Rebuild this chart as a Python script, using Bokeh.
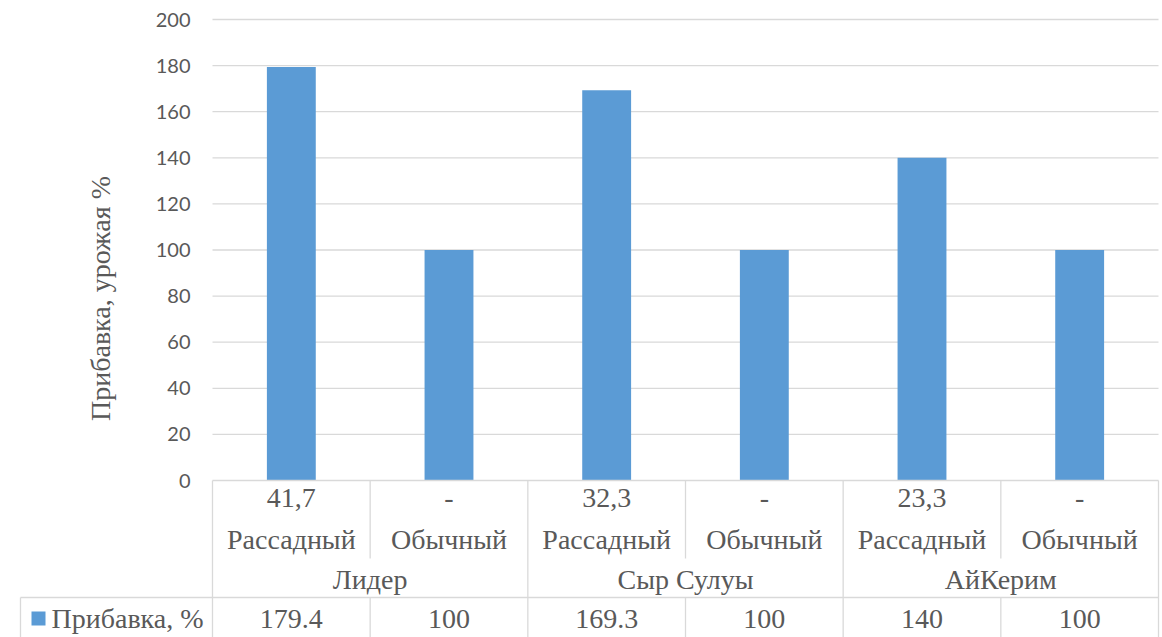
from bokeh.plotting import figure
from bokeh.models import Range1d, ColumnDataSource
from bokeh.core.properties import value
from bokeh.embed import file_html
from bokeh.resources import INLINE

# ---- data ----
varieties = ["Лидер", "Сыр Сулуы", "АйКерим"]
methods = ["Рассадный", "Обычный"]
gain_labels = ["41,7", "-", "32,3", "-", "23,3", "-"]
gain_pct = [179.4, 100, 169.3, 100, 140, 100]
value_labels = ["179.4", "100", "169.3", "100", "140", "100"]
y_ticks = [0, 20, 40, 60, 80, 100, 120, 140, 160, 180, 200]
series_name = "Прибавка, %"
axis_title = "Прибавка, урожая %"

# ---- layout (screen pixels) ----
W, H = 1162, 637
PLOT_L, PLOT_R = 212, 1158
PLOT_T, PLOT_B = 19, 480
n_slots = len(gain_pct)
slot_px = (PLOT_R - PLOT_L) / n_slots
unit_px = (PLOT_B - PLOT_T) / (y_ticks[-1] - y_ticks[0])


def ypx(py):
    """screen y -> data y"""
    return (PLOT_B - py) / unit_px


def xpx(px):
    """screen x -> data x (slot units)"""
    return (px - PLOT_L) / slot_px


GRID = "#d9d9d9"
TXT = "#595959"
BAR = "#5b9bd5"
TBL = "28px"


def serif_text(**kw):
    p.text(text_font=value("Liberation Serif"), text_color=TXT,
           text_baseline="middle", **kw)


p = figure(width=W, height=H, output_backend="svg", toolbar_location=None,
           x_range=Range1d(xpx(0), xpx(W)), y_range=Range1d(ypx(H), ypx(0)),
           min_border=0, outline_line_color=None)
p.axis.visible = False
p.grid.visible = False
p.background_fill_color = "white"
p.border_fill_color = "white"

# serif texts first: axis title
serif_text(x=[xpx(100)], y=[ypx(298)], text=[axis_title], angle=1.5708,
           text_align="center", text_font_size="28px")

# horizontal gridlines
grid_y = [t for t in y_ticks if t > 0]
p.segment(x0=[0] * len(grid_y), x1=[n_slots] * len(grid_y), y0=grid_y, y1=grid_y,
          line_color=GRID, line_width=1.3)

# bars
centers = [i + 0.5 for i in range(n_slots)]
src = ColumnDataSource(dict(x=centers, top=gain_pct))
p.vbar(x="x", top="top", bottom=0, width=0.31, source=src,
       fill_color=BAR, line_color=None)

# ---- data table under the axis ----
ROW_SPLIT = 558   # end of inner dividers in the category rows
LEG_TOP = 597
LEG_LEFT = 20
LW = 1.3

# axis line / table top
p.segment(x0=[0], x1=[n_slots], y0=[0], y1=[0], line_color=GRID, line_width=LW)
# group borders (full height)
for g in range(len(varieties) + 1):
    xg = g * len(methods)
    p.segment(x0=[xg], x1=[xg], y0=[0], y1=[ypx(H)], line_color=GRID, line_width=LW)
# inner dividers
for g in range(len(varieties)):
    for m in range(1, len(methods)):
        xi = g * len(methods) + m
        p.segment(x0=[xi], x1=[xi], y0=[0], y1=[ypx(ROW_SPLIT)], line_color=GRID, line_width=LW)
        p.segment(x0=[xi], x1=[xi], y0=[ypx(LEG_TOP)], y1=[ypx(H)], line_color=GRID, line_width=LW)
# legend row frame
p.segment(x0=[xpx(LEG_LEFT)], x1=[n_slots], y0=[ypx(LEG_TOP)], y1=[ypx(LEG_TOP)],
          line_color=GRID, line_width=LW)
p.segment(x0=[xpx(LEG_LEFT)], x1=[xpx(LEG_LEFT)], y0=[ypx(LEG_TOP)], y1=[ypx(H)],
          line_color=GRID, line_width=LW)

# row 1: gain labels, row 2: methods
method_row = [methods[i % len(methods)] for i in range(n_slots)]
serif_text(x=centers, y=[ypx(497)] * n_slots, text=gain_labels, text_align="center",
           text_font_size=TBL)
serif_text(x=centers, y=[ypx(539)] * n_slots, text=method_row, text_align="center",
           text_font_size=TBL)
# row 3: varieties
group_centers = [g * len(methods) + len(methods) / 2 for g in range(len(varieties))]
serif_text(x=group_centers, y=[ypx(579)] * len(varieties), text=varieties,
           text_align="center", text_font_size=TBL)
# legend row values
serif_text(x=centers, y=[ypx(618)] * n_slots, text=value_labels, text_align="center",
           text_font_size=TBL)
# legend key + name
p.scatter(x=[xpx(38)], y=[ypx(618)], marker="square", size=14, fill_color=BAR, line_color=None)
serif_text(x=[xpx(51)], y=[ypx(618)], text=[series_name], text_align="left",
           text_font_size=TBL)

# y tick labels (sans), drawn last
p.text(x=[xpx(190)] * len(y_ticks), y=y_ticks, text=[str(t) for t in y_ticks],
       text_align="right", text_baseline="middle", text_font=value("Lato"),
       text_font_size="20px", text_color=TXT)

open("out.html", "w").write(file_html(p, INLINE))
